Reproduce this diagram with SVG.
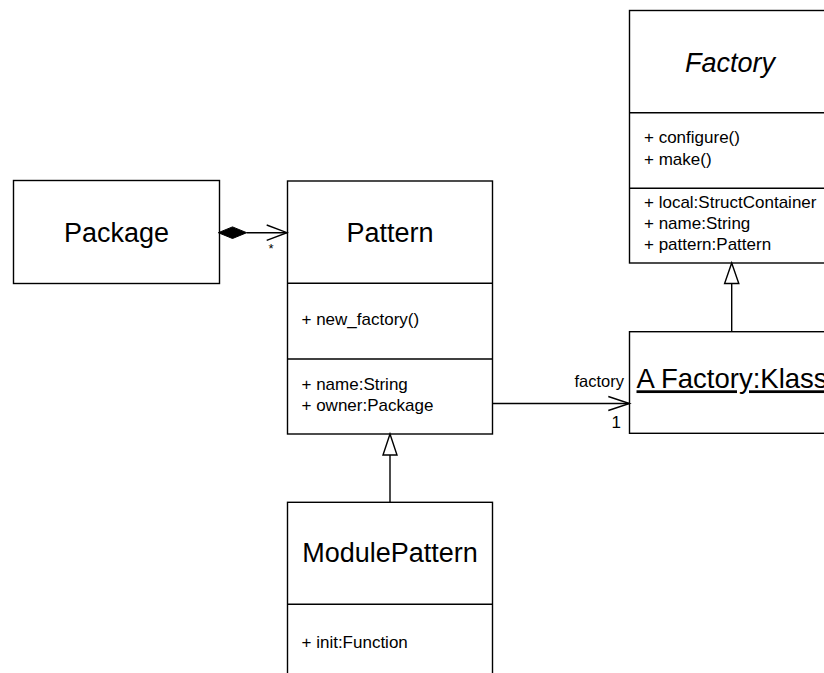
<svg xmlns="http://www.w3.org/2000/svg" width="824" height="673" viewBox="0 0 824 673">
<style>
.box{fill:#fff;stroke:#000;stroke-width:1.4}
.ln{fill:none;stroke:#000;stroke-width:1.4}
.t{font-family:"Liberation Sans",Arial,sans-serif;fill:#000}
.h{font-size:27px;text-anchor:middle}
.s{font-size:17px}
</style>
<rect width="824" height="673" fill="#fff"/>
<g id="Factory">
<rect class="box" x="629.5" y="10.5" width="220" height="252.5"/>
<line class="ln" x1="629.5" y1="112.7" x2="850" y2="112.7"/>
<line class="ln" x1="629.5" y1="188.3" x2="850" y2="188.3"/>
<text class="t h" x="730" y="71.5" font-style="italic">Factory</text>
<text class="t s" x="644" y="143">+ configure()</text>
<text class="t s" x="644" y="164.5">+ make()</text>
<text class="t s" x="644" y="207.5">+ local:StructContainer</text>
<text class="t s" x="644" y="228.5">+ name:String</text>
<text class="t s" x="644" y="249.5">+ pattern:Pattern</text>
</g>
<g id="Package">
<rect class="box" x="13.5" y="180.5" width="206" height="103"/>
<text class="t h" x="116.5" y="241.5">Package</text>
</g>
<g id="Pattern">
<rect class="box" x="287.5" y="181" width="205" height="253"/>
<line class="ln" x1="287.5" y1="283.3" x2="492.5" y2="283.3"/>
<line class="ln" x1="287.5" y1="359" x2="492.5" y2="359"/>
<text class="t h" x="390" y="241.5">Pattern</text>
<text class="t s" x="301.5" y="325">+ new_factory()</text>
<text class="t s" x="301.5" y="389.5">+ name:String</text>
<text class="t s" x="301.5" y="410.5">+ owner:Package</text>
</g>
<g id="ModulePattern">
<rect class="box" x="287.5" y="502.3" width="205" height="190"/>
<line class="ln" x1="287.5" y1="604.3" x2="492.5" y2="604.3"/>
<text class="t h" x="390" y="561.5">ModulePattern</text>
<text class="t s" x="301.5" y="647.5">+ init:Function</text>
</g>
<g id="AFactoryKlass">
<rect class="box" x="629.5" y="331.7" width="220" height="101.6"/>
<text class="t" x="636.5" y="388.3" font-size="27.5px" text-decoration="underline">A Factory:Klass</text>
</g>
<g id="connectors">
<line class="ln" x1="246.7" y1="232.7" x2="287" y2="232.7"/>
<polygon points="218.3,232.7 232.5,226.9 246.7,232.7 232.5,238.5" fill="#000" stroke="#000" stroke-width="1"/>
<polyline class="ln" points="266.7,225 287,232.7 266.7,240.4"/>
<text class="t" x="268.5" y="253" font-size="13px">*</text>
<line class="ln" x1="390" y1="455" x2="390" y2="502.3"/>
<polygon class="box" points="390,434 397,455 383,455"/>
<line class="ln" x1="731.7" y1="283.5" x2="731.7" y2="331.7"/>
<polygon class="box" points="731.7,263 738.8,283.5 724.6,283.5"/>
<line class="ln" x1="492.5" y1="403.5" x2="629.5" y2="403.5"/>
<polyline class="ln" points="608.3,396.5 629.5,403.5 608.3,410.5"/>
<text class="t" x="624" y="386.5" font-size="16.5px" text-anchor="end">factory</text>
<text class="t s" x="621" y="428.3" text-anchor="end">1</text>
</g>
</svg>
